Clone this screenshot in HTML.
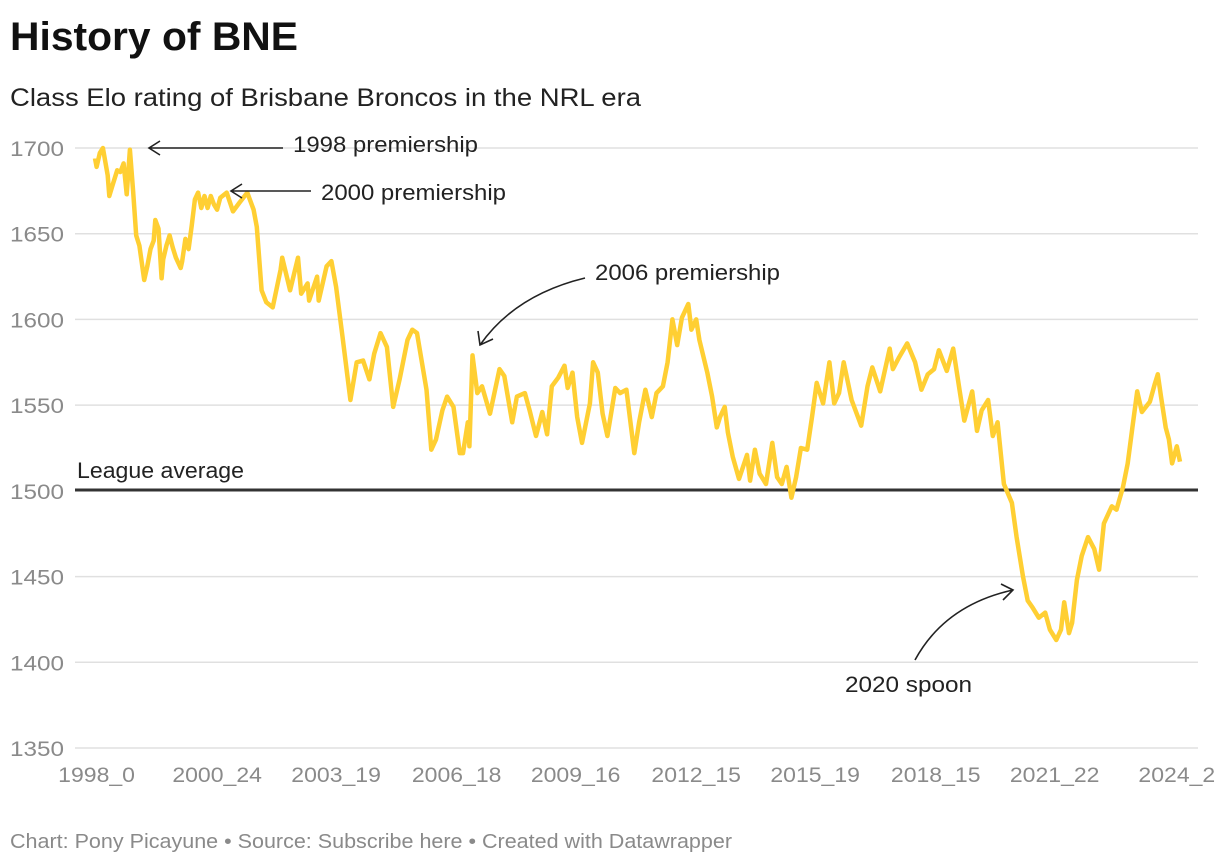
<!DOCTYPE html>
<html><head><meta charset="utf-8"><style>
body{margin:0;background:#fff;font-family:"Liberation Sans",sans-serif;}
#wrap{position:relative;width:1220px;height:864px;overflow:hidden;}
</style></head><body>
<div id="wrap">
<svg id="chart" width="1220" height="864" xmlns="http://www.w3.org/2000/svg">
<text x="10" y="50" font-size="40" font-weight="bold" fill="#111" textLength="288" lengthAdjust="spacingAndGlyphs">History of BNE</text>
<text x="10" y="106" font-size="25" fill="#222" textLength="631" lengthAdjust="spacingAndGlyphs">Class Elo rating of Brisbane Broncos in the NRL era</text>
<g id="grid"></g>
<g id="xaxis"></g>
<line x1="75" x2="1198" y1="490" y2="490" stroke="#333" stroke-width="3"/>
<text x="77" y="478" font-size="22" fill="#222" textLength="167" lengthAdjust="spacingAndGlyphs">League average</text>
<path id="series" fill="none" stroke="#ffcf33" stroke-width="4.5" stroke-linejoin="round"/>
<g fill="none" stroke="#222" stroke-width="1.6">
<path d="M283,148 L149,148 M160,141 L149,148 L160,155"/>
<path d="M311,191 L231,191 M242,184 L231,191 L242,198"/>
<path d="M585,278 Q515,295 480,345 M478,331 L480,345 L493,339"/>
<path d="M915,660 Q945,605 1013,590 M1001,584 L1013,590 L1003,600"/>
</g>
<text x="293" y="152" font-size="22" fill="#222" textLength="185" lengthAdjust="spacingAndGlyphs">1998 premiership</text>
<text x="321" y="200" font-size="22" fill="#222" textLength="185" lengthAdjust="spacingAndGlyphs">2000 premiership</text>
<text x="595" y="280" font-size="22" fill="#222" textLength="185" lengthAdjust="spacingAndGlyphs">2006 premiership</text>
<text x="845" y="692" font-size="22" fill="#222" textLength="127" lengthAdjust="spacingAndGlyphs">2020 spoon</text>
<text x="10" y="848" font-size="20" fill="#8a8a8a" textLength="722" lengthAdjust="spacingAndGlyphs">Chart: Pony Picayune • Source: Subscribe here • Created with Datawrapper</text>
</svg>
</div>
<script>
const games=[0,1,3,5,8,9,11,14,16,18,20,22,24,26,28,31,33,35,37,38,40,42,43,45,47,49,51,54,55,57,59,61,63,65,67,69,71,73,75,77,79,83,87,91,96,100,102,105,108,112,117,118,123,128,130,134,135,140,141,146,149,152,156,161,165,169,173,176,180,184,188,192,197,200,203,209,212,215,219,222,226,230,232,235,236,238,241,244,249,255,258,263,266,271,274,278,282,285,288,292,296,298,301,304,307,312,314,317,320,323,328,331,335,340,343,347,351,354,358,361,364,367,370,374,376,379,381,386,389,392,394,397,399,402,406,411,413,416,419,423,427,430,433,436,439,442,445,449,452,455,459,463,466,469,472,477,483,487,490,495,501,503,507,512,517,521,525,529,532,537,541,545,548,553,556,559,563,566,569,573,578,581,585,588,591,595,599,602,606,609,611,614,616,619,622,626,630,633,636,641,644,648,651,654,657,660,665,668,670,672,675,677,679,682,684];
const elo=[1694,1689,1697,1700,1684,1672,1678,1687,1686,1691,1673,1699,1675,1649,1643,1623,1631,1641,1646,1658,1653,1624,1635,1643,1649,1642,1636,1630,1634,1647,1641,1655,1670,1674,1665,1672,1665,1672,1667,1664,1671,1674,1663,1668,1674,1664,1654,1617,1610,1607,1629,1636,1617,1636,1615,1621,1611,1625,1611,1631,1634,1619,1590,1553,1575,1576,1565,1580,1592,1584,1549,1565,1588,1594,1592,1559,1524,1530,1547,1555,1549,1522,1522,1540,1526,1579,1557,1561,1545,1571,1567,1540,1555,1557,1547,1532,1546,1533,1561,1566,1573,1560,1569,1543,1528,1551,1575,1569,1545,1532,1560,1557,1559,1522,1540,1559,1543,1557,1561,1575,1600,1585,1601,1609,1594,1600,1588,1569,1555,1537,1543,1549,1534,1520,1507,1521,1506,1524,1510,1504,1528,1508,1504,1514,1496,1508,1525,1524,1543,1563,1551,1575,1551,1557,1575,1553,1538,1561,1572,1558,1583,1571,1578,1586,1575,1559,1568,1571,1582,1570,1583,1559,1541,1558,1535,1547,1553,1532,1540,1504,1493,1473,1450,1436,1432,1426,1429,1419,1413,1419,1435,1417,1423,1448,1462,1473,1466,1454,1481,1491,1489,1502,1516,1537,1558,1546,1552,1562,1568,1555,1537,1530,1516,1526,1517];
const yTicks=[1350,1400,1450,1500,1550,1600,1650,1700];
const xTickGames=[1,77,152,228,303,379,454,530,605,682];
const xTickLabels=["1998_0","2000_24","2003_19","2006_18","2009_16","2012_15","2015_19","2018_15","2021_22","2024_2"];
const NS="http://www.w3.org/2000/svg";
function xs(g){return 95+g*(1085/684);}
function ys(v){return 148+(1700-v)*(600/350);}
const grid=document.getElementById('grid');
yTicks.forEach(t=>{
  if(t!==1500){
    const l=document.createElementNS(NS,'line');
    l.setAttribute('x1',75);l.setAttribute('x2',1198);
    l.setAttribute('y1',ys(t));l.setAttribute('y2',ys(t));
    l.setAttribute('stroke','#e0e0e0');l.setAttribute('stroke-width','1.5');
    
    
    grid.appendChild(l);
  }
  const tx=document.createElementNS(NS,'text');
  tx.setAttribute('x',10);tx.setAttribute('y',ys(t)+8);
  tx.setAttribute('font-size','21');tx.setAttribute('fill','#8a8a8a');
  tx.setAttribute('textLength','54');tx.setAttribute('lengthAdjust','spacingAndGlyphs');
  tx.textContent=t;
  
  
  grid.appendChild(tx);
});
const xa=document.getElementById('xaxis');
xTickGames.forEach((g,i)=>{
  const tx=document.createElementNS(NS,'text');
  tx.setAttribute('x',xs(g));tx.setAttribute('y',782);
  tx.setAttribute('font-size','21');tx.setAttribute('fill','#8a8a8a');
  tx.setAttribute('text-anchor','middle');
  tx.setAttribute('textLength',String(xTickLabels[i].length*12.8));tx.setAttribute('lengthAdjust','spacingAndGlyphs');
  tx.textContent=xTickLabels[i];
  
  
  xa.appendChild(tx);
});
document.getElementById('series').setAttribute('d',games.map((g,i)=>(i?'L':'M')+xs(g).toFixed(1)+','+ys(elo[i]).toFixed(1)).join(' '));
</script>
</body></html>
